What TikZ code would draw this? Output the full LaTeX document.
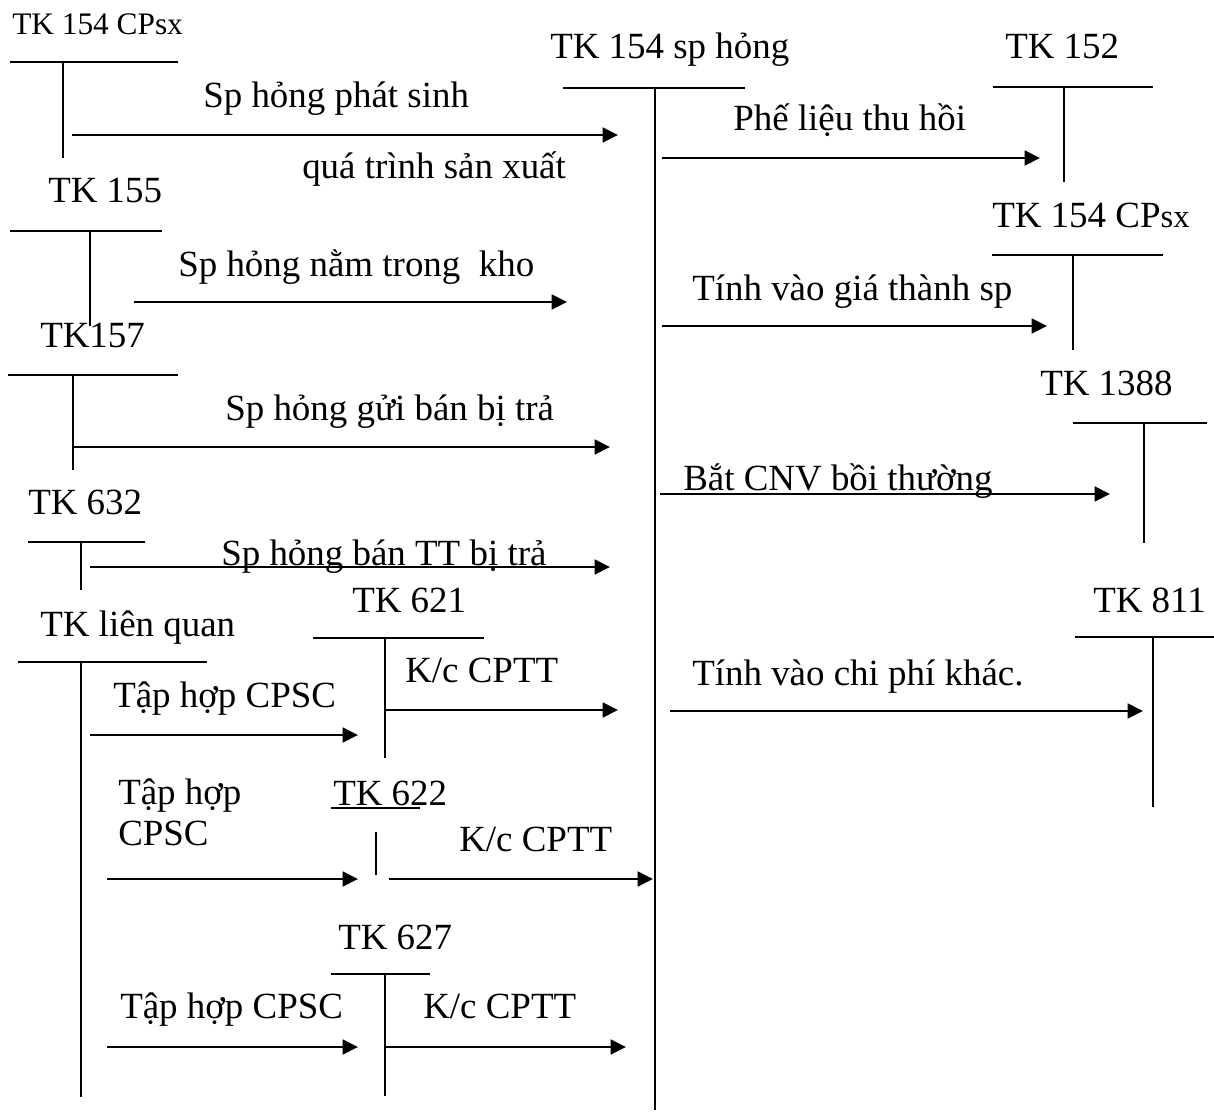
\documentclass[tikz,border=0pt]{standalone}
\usepackage{fontspec}
\setmainfont{Liberation Serif}
\usetikzlibrary{arrows.meta}
\begin{document}
\begin{tikzpicture}[x=0.75pt,y=-0.75pt,
  lbl/.style={anchor=base west,inner sep=0pt,font=\fontsize{27.7}{33}\selectfont},
  acc/.style={line width=1.3pt},
  flow/.style={line width=2pt,-{Triangle[length=11.5pt,width=11pt]}}]
\useasboundingbox (0,0) rectangle (1214,1113);
% ---- T-accounts ----
% TK 154 CPsx (left top)
\node[lbl,font=\fontsize{23.5}{28}\selectfont] (t154L) at (12,35) {TK 154 CPsx};
\coordinate (a1l) at (10,62); \coordinate (a1r) at (178,62); \coordinate (a1b) at (63,158);
\draw[acc] (a1l) -- (a1r); \draw[acc] (a1b|-a1l) -- (a1b);
% TK 154 sp hong (central)
\node[lbl] (t154) at (550,59) {TK 154 sp hỏng};
\coordinate (c1l) at (563,88); \coordinate (c1r) at (745,88); \coordinate (c1b) at (655,1110);
\draw[acc] (c1l) -- (c1r); \draw[acc] (c1b|-c1l) -- (c1b);
% TK 152
\node[lbl] (t152) at (1005,59) {TK 152};
\coordinate (r1l) at (993,87); \coordinate (r1r) at (1153,87); \coordinate (r1b) at (1064,182);
\draw[acc] (r1l) -- (r1r); \draw[acc] (r1b|-r1l) -- (r1b);
% TK 155
\node[lbl] (t155) at (48,202) {TK 155};
\coordinate (a2l) at (10,231); \coordinate (a2r) at (162,231); \coordinate (a2b) at (90,326);
\draw[acc] (a2l) -- (a2r); \draw[acc] (a2b|-a2l) -- (a2b);
% TK 154 CPsx (right)
\node[lbl] (t154R) at (992,227) {TK 154 CP{\fontsize{24.5}{28}\selectfont sx}};
\coordinate (r2l) at (992,255); \coordinate (r2r) at (1163,255); \coordinate (r2b) at (1073,350);
\draw[acc] (r2l) -- (r2r); \draw[acc] (r2b|-r2l) -- (r2b);
% TK157
\node[lbl] (t157) at (40,347) {TK157};
\coordinate (a3l) at (8,375); \coordinate (a3r) at (178,375); \coordinate (a3b) at (73,470);
\draw[acc] (a3l) -- (a3r); \draw[acc] (a3b|-a3l) -- (a3b);
% TK 1388
\node[lbl] (t1388) at (1040,395) {TK 1388};
\coordinate (r3l) at (1073,423); \coordinate (r3r) at (1207,423); \coordinate (r3b) at (1144,543);
\draw[acc] (r3l) -- (r3r); \draw[acc] (r3b|-r3l) -- (r3b);
% TK 632
\node[lbl] (t632) at (28,514) {TK 632};
\coordinate (a4l) at (28,542); \coordinate (a4r) at (145,542); \coordinate (a4b) at (81,590);
\draw[acc] (a4l) -- (a4r); \draw[acc] (a4b|-a4l) -- (a4b);
% TK 621
\node[lbl] (t621) at (352,612) {TK 621};
\coordinate (m1l) at (313,638); \coordinate (m1r) at (484,638); \coordinate (m1b) at (385,758);
\draw[acc] (m1l) -- (m1r); \draw[acc] (m1b|-m1l) -- (m1b);
% TK lien quan
\node[lbl] (tlq) at (40,636) {TK liên quan};
\coordinate (a5l) at (18,662); \coordinate (a5r) at (207,662); \coordinate (a5b) at (81,1097);
\draw[acc] (a5l) -- (a5r); \draw[acc] (a5b|-a5l) -- (a5b);
% TK 811
\node[lbl] (t811) at (1093,612) {TK 811};
\coordinate (r4l) at (1075,637); \coordinate (r4r) at (1214,637); \coordinate (r4b) at (1153,807);
\draw[acc] (r4l) -- (r4r); \draw[acc] (r4b|-r4l) -- (r4b);
% TK 622
\node[lbl] (t622) at (333,805) {TK 622};
\coordinate (m2l) at (331,808); \coordinate (m2r) at (420,808);
\coordinate (m2t) at (376,832); \coordinate (m2b) at (376,875);
\draw[line width=1.2pt] (m2l) -- (m2r); \draw[acc] (m2t) -- (m2b);
% TK 627
\node[lbl] (t627) at (338,949) {TK 627};
\coordinate (m3l) at (331,974); \coordinate (m3r) at (430,974); \coordinate (m3b) at (385,1096);
\draw[acc] (m3l) -- (m3r); \draw[acc] (m3b|-m3l) -- (m3b);
% ---- flows ----
\coordinate (f1s) at (72,135); \coordinate (f1e) at (618,135);
\draw[flow] (f1s) -- (f1e);
\node[lbl] (l1) at (203,108) {Sp hỏng phát sinh};
\node[lbl] (l1b) at (302,178) {quá trình sản xuất};
\coordinate (f2s) at (662,158); \coordinate (f2e) at (1040,158);
\draw[flow] (f2s) -- (f2e);
\node[lbl] (l2) at (733,131) {Phế liệu thu hồi};
\coordinate (f3s) at (134,302); \coordinate (f3e) at (567,302);
\draw[flow] (f3s) -- (f3e);
\node[lbl] (l3) at (178,276) {Sp hỏng nằm trong~ kho};
\coordinate (f4s) at (662,326); \coordinate (f4e) at (1047,326);
\draw[flow] (f4s) -- (f4e);
\node[lbl] (l4) at (692,300) {Tính vào giá thành sp};
\coordinate (f5s) at (73,447); \coordinate (f5e) at (610,447);
\draw[flow] (f5s) -- (f5e);
\node[lbl] (l5) at (225,420) {Sp hỏng gửi bán bị trả};
\coordinate (f6s) at (660,494); \coordinate (f6e) at (1110,494);
\draw[flow] (f6s) -- (f6e);
\node[lbl] (l6) at (683,490) {Bắt CNV bồi thường};
\coordinate (f7s) at (90,567); \coordinate (f7e) at (610,567);
\draw[flow] (f7s) -- (f7e);
\node[lbl] (l7) at (221,565) {Sp hỏng bán TT bị trả};
\coordinate (f8s) at (90,735); \coordinate (f8e) at (358,735);
\draw[flow] (f8s) -- (f8e);
\node[lbl] (l8) at (113,707) {Tập hợp CPSC};
\coordinate (f9s) at (385,710); \coordinate (f9e) at (618,710);
\draw[flow] (f9s) -- (f9e);
\node[lbl] (l9) at (405,682) {K/c CPTT};
\coordinate (f10s) at (670,711); \coordinate (f10e) at (1143,711);
\draw[flow] (f10s) -- (f10e);
\node[lbl] (l10) at (692,685) {Tính vào chi phí khác.};
\coordinate (f11s) at (107,879); \coordinate (f11e) at (358,879);
\draw[flow] (f11s) -- (f11e);
\node[lbl] (l11a) at (118,804) {Tập hợp};
\node[lbl] (l11b) at (118,845) {CPSC};
\coordinate (f12s) at (389,879); \coordinate (f12e) at (653,879);
\draw[flow] (f12s) -- (f12e);
\node[lbl] (l12) at (459,851) {K/c CPTT};
\coordinate (f13s) at (107,1047); \coordinate (f13e) at (358,1047);
\draw[flow] (f13s) -- (f13e);
\node[lbl] (l13) at (120,1018) {Tập hợp CPSC};
\coordinate (f14s) at (385,1047); \coordinate (f14e) at (626,1047);
\draw[flow] (f14s) -- (f14e);
\node[lbl] (l14) at (423,1018) {K/c CPTT};
\end{tikzpicture}
\end{document}
